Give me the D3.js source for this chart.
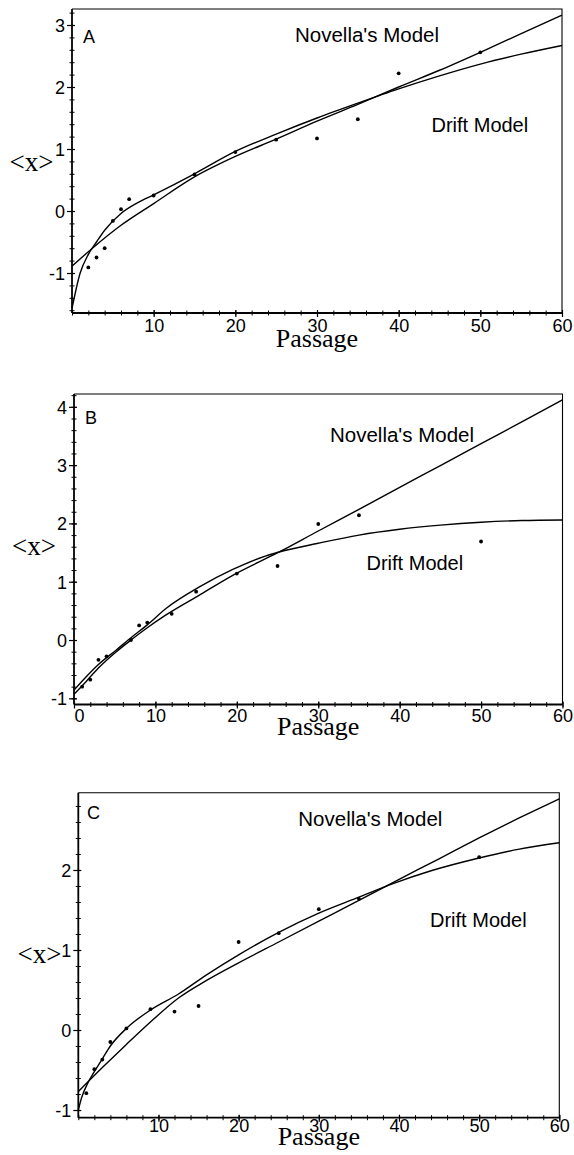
<!DOCTYPE html>
<html>
<head>
<meta charset="utf-8">
<script src="https://cdn.jsdelivr.net/npm/d3@7"></script>
<style>
  body { margin: 0; background: #fff; }
  svg { display: block; }
</style>
</head>
<body>
<script>
// values: mean <x> per passage, and the two fitted models

// panel A
const passageA = [2, 3, 4, 5, 6, 7, 10, 15, 20, 25, 30, 35, 40, 50];
const meanA = [-0.91, -0.75, -0.6, -0.16, 0.03, 0.19, 0.25, 0.59, 0.95, 1.15, 1.17, 1.48, 2.22, 2.56];
const novellaA = [[0, -0.89], [2.5, -0.6], [6, -0.23], [10, 0.12], [15, 0.55], [20, 0.88], [25, 1.16],
  [30, 1.45], [35, 1.72], [40, 2.0], [45, 2.27], [50, 2.56], [55, 2.86], [60, 3.16]];
const driftA = [[0, -1.57], [1, -1.0], [2, -0.7], [3, -0.5], [4, -0.31], [6, -0.04], [8, 0.13], [10, 0.26],
  [15, 0.6], [20, 0.96], [25, 1.24], [30, 1.5], [35, 1.74], [40, 1.97], [45, 2.18], [50, 2.37], [55, 2.53], [60, 2.67]];

// panel B
const passageB = [1, 2, 3, 4, 7, 8, 9, 12, 15, 20, 25, 30, 35, 50];
const meanB = [-0.8, -0.68, -0.34, -0.28, 0.0, 0.25, 0.3, 0.45, 0.83, 1.14, 1.27, 1.99, 2.14, 1.69];
const novellaB = [[0, -0.93], [1.5, -0.71], [3, -0.48], [5.2, -0.2], [7, 0.0], [9, 0.21], [11.3, 0.43],
  [15.4, 0.77], [19.5, 1.11], [25.2, 1.51], [30, 1.87], [35, 2.24], [40, 2.62], [45, 2.99], [50, 3.37], [55, 3.74], [60, 4.12]];
const driftB = [[0, -0.86], [1.5, -0.63], [3, -0.42], [5.2, -0.17], [7, 0.04], [9, 0.26], [11.3, 0.54],
  [15.4, 0.91], [19.5, 1.21], [23.5, 1.44], [25.2, 1.51], [30, 1.66], [35, 1.8], [40, 1.9], [45, 1.97], [50, 2.02], [55, 2.05], [60, 2.06]];

// panel C
const passageC = [1, 2, 3, 4, 6, 9, 12, 15, 20, 25, 30, 35, 50];
const meanC = [-0.79, -0.49, -0.37, -0.15, 0.02, 0.26, 0.23, 0.3, 1.1, 1.21, 1.51, 1.64, 2.16];
const novellaC = [[0, -0.77], [3, -0.47], [6, -0.18], [9, 0.1], [12.5, 0.4], [16, 0.62], [20, 0.84],
  [25, 1.1], [30, 1.36], [35, 1.62], [39, 1.83], [45, 2.14], [50, 2.4], [55, 2.65], [60, 2.89]];
const driftC = [[0, -1.0], [0.4, -0.85], [1.25, -0.65], [2, -0.52], [3, -0.36], [4, -0.2], [6, 0.02], [9, 0.25],
  [12.5, 0.45], [16, 0.69], [20, 0.94], [25, 1.22], [30, 1.46], [35, 1.66], [39, 1.82], [44, 1.99], [50, 2.15], [55, 2.26], [60, 2.34]];

// tick labels
const yTicksA = [-1, 0, 1, 2, 3];
const yTicksB = [-1, 0, 1, 2, 3, 4];
const yTicksC = [-1, 0, 1, 2];
const xTicksA = [10, 20, 30, 40, 50, 60];
const xTicksB = [0, 10, 20, 30, 40, 50, 60];
const xTicksC = [10, 20, 30, 40, 50, 60];

const sans = '"Liberation Sans", Arial, sans-serif';
const serif = '"Liberation Serif", "Times New Roman", serif';

const panels = [
  { label: "A", passage: passageA, mean: meanA, novella: novellaA, drift: driftA,
    yTicks: yTicksA, xTicks: xTicksA,
    left: 72, right: 562, top: 9, bottom: 313, yDomain: [-1.645, 3.258],
    tickDy: 19, passageDy: 33.5, yLabelX: 31.5, yLabelY: 171,
    novellaPos: [295, 41.5], driftPos: [431.5, 131.5], labelPos: [83, 43] },
  { label: "B", passage: passageB, mean: meanB, novella: novellaB, drift: driftB,
    yTicks: yTicksB, xTicks: xTicksB,
    left: 74, right: 562.5, top: 394, bottom: 704.5, yDomain: [-1.106, 4.22],
    tickDy: 17.5, passageDy: 30.5, yLabelX: 34, yLabelY: 555,
    novellaPos: [330, 441.5], driftPos: [366.5, 570], labelPos: [85, 424] },
  { label: "C", passage: passageC, mean: meanC, novella: novellaC, drift: driftC,
    yTicks: yTicksC, xTicks: xTicksC,
    left: 78.3, right: 559.3, top: 792.7, bottom: 1117.7, yDomain: [-1.096, 2.966],
    tickDy: 14.5, passageDy: 27.5, yLabelX: 39.5, yLabelY: 963,
    novellaPos: [298.3, 826], driftPos: [430, 926.5], labelPos: [87, 819] }
];

const svg = d3.select("body").append("svg")
    .attr("width", 574)
    .attr("height", 1155);

panels.forEach(drawPanel);

function drawPanel(p) {
    const x = d3.scaleLinear().domain([0, 60]).range([p.left, p.right]);
    const y = d3.scaleLinear().domain(p.yDomain).range([p.bottom, p.top]);
    const g = svg.append("g");

    // thin frame on top and right
    g.append("path")
        .attr("d", `M${p.left},${p.top}H${p.right}V${p.bottom}`)
        .attr("fill", "none")
        .attr("stroke", "#000")
        .attr("stroke-width", 1.1);

    // minor ticks (cross the axis line)
    const yMinor = d3.range(Math.ceil(p.yDomain[0] * 5), Math.floor(p.yDomain[1] * 5) + 1).map(d => d / 5);
    g.append("g")
        .attr("transform", `translate(${p.left},0)`)
        .call(d3.axisLeft(y).tickValues(yMinor).tickSize(2.5).tickFormat(""))
        .call(a => a.select(".domain").remove())
        .selectAll(".tick line").attr("x1", 2.5).attr("stroke-width", 1);

    g.append("g")
        .attr("transform", `translate(0,${p.bottom})`)
        .call(d3.axisBottom(x).tickValues(d3.range(0, 61, 2)).tickSize(2.5).tickFormat(""))
        .call(a => a.select(".domain").remove())
        .selectAll(".tick line").attr("y1", -2.5).attr("stroke-width", 1);

    // major ticks and labels
    const yAxis = g.append("g")
        .attr("transform", `translate(${p.left},0)`)
        .call(d3.axisLeft(y).tickValues(p.yTicks).tickSize(5).tickSizeOuter(0)
            .tickFormat(d => String(d)));
    yAxis.select(".domain").attr("stroke-width", 1.8)
        .attr("d", `M0,${p.top}V${p.bottom}`);
    yAxis.selectAll(".tick line").attr("x1", 3).attr("stroke-width", 1.2);
    yAxis.selectAll(".tick text")
        .attr("x", -7)
        .attr("dy", "0.36em")
        .attr("font-family", sans)
        .attr("font-size", 18)
        .attr("fill", "#000");

    const xAxis = g.append("g")
        .attr("transform", `translate(0,${p.bottom})`)
        .call(d3.axisBottom(x).tickValues(p.xTicks).tickSize(4).tickSizeOuter(0)
            .tickFormat(d => String(d)));
    xAxis.select(".domain").attr("stroke-width", 1.8)
        .attr("d", `M${p.left},0H${p.right}`);
    xAxis.selectAll(".tick line").attr("y1", -3).attr("stroke-width", 1.2);
    xAxis.selectAll(".tick text")
        .attr("y", p.tickDy)
        .attr("dy", 0)
        .attr("dx", d => d === 0 ? 5 : 0)
        .attr("font-family", sans)
        .attr("font-size", 18)
        .attr("fill", "#000");

    // model curves
    const line = d3.line()
        .x(d => x(d[0]))
        .y(d => y(d[1]))
        .curve(d3.curveMonotoneX);

    [p.novella, p.drift].forEach(curve => {
        g.append("path")
            .datum(curve)
            .attr("d", line)
            .attr("fill", "none")
            .attr("stroke", "#000")
            .attr("stroke-width", 1.4);
    });

    // data points
    g.selectAll(".pt")
        .data(p.passage.map((d, i) => [d, p.mean[i]]))
        .enter()
        .append("circle")
        .attr("class", "pt")
        .attr("cx", d => x(d[0]))
        .attr("cy", d => y(d[1]))
        .attr("r", 1.9)
        .attr("fill", "#000");

    // texts
    g.append("text")
        .attr("x", p.labelPos[0])
        .attr("y", p.labelPos[1])
        .attr("font-family", sans)
        .attr("font-size", 18)
        .text(p.label);

    g.append("text")
        .attr("x", p.novellaPos[0])
        .attr("y", p.novellaPos[1])
        .attr("font-family", sans)
        .attr("font-size", 20.5)
        .text("Novella's Model");

    g.append("text")
        .attr("x", p.driftPos[0])
        .attr("y", p.driftPos[1])
        .attr("font-family", sans)
        .attr("font-size", 20)
        .text("Drift Model");

    g.append("text")
        .attr("x", p.yLabelX)
        .attr("y", p.yLabelY)
        .attr("text-anchor", "middle")
        .attr("font-family", serif)
        .attr("font-size", 27)
        .text("<x>");

    g.append("text")
        .attr("x", (p.left + p.right) / 2)
        .attr("y", p.bottom + p.passageDy)
        .attr("text-anchor", "middle")
        .attr("font-family", serif)
        .attr("font-size", 26)
        .text("Passage");
}
</script>
</body>
</html>
